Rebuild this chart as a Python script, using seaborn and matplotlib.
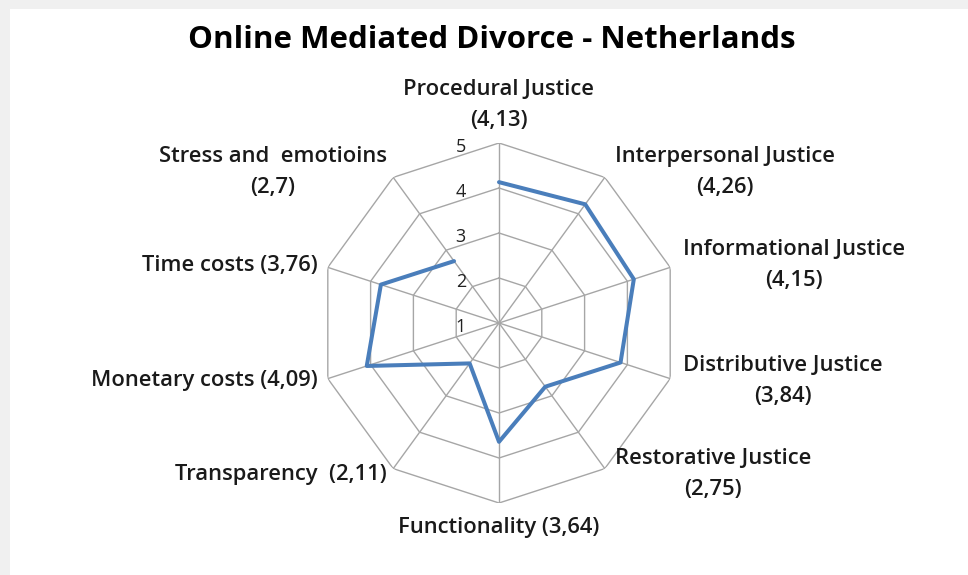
import numpy as np
import pandas as pd
import matplotlib
matplotlib.use('Agg')
import matplotlib.pyplot as plt
import seaborn as sns
from matplotlib.patches import Rectangle

sns.set_style('white')
plt.rcParams['font.family'] = ['Open Sans', 'DejaVu Sans']

# data (clockwise from top)
categories = ['Procedural Justice', 'Interpersonal Justice', 'Informational Justice',
              'Distributive Justice', 'Restorative Justice', 'Functionality',
              'Transparency', 'Monetary costs', 'Time costs', 'Stress and  emotioins']
scores = [4.13, 4.26, 4.15, 3.84, 2.75, 3.64, 2.11, 4.09, 3.76, 2.7]
score_text = ['4,13', '4,26', '4,15', '3,84', '2,75', '3,64', '2,11', '4,09', '3,76', '2,7']
ring_levels = [1, 2, 3, 4, 5]

n = len(categories)
angles = np.arange(n) * 2 * np.pi / n

df = pd.DataFrame({'angle': np.append(angles, angles[0]),
                   'score': scores + [scores[0]]})

fig = plt.figure(figsize=(9.68, 5.75), dpi=100)
fig.patch.set_facecolor('#f0f0f0')
fig.patches.append(Rectangle((10 / 968, 0), 1, (575 - 9) / 575, transform=fig.transFigure,
                             facecolor='white', edgecolor='none', zorder=-5))

cx, cy, rad = 499, 323, 180
ax = fig.add_axes([(cx - rad) / 968, (575 - cy - rad) / 575, 2 * rad / 968, 2 * rad / 575],
                  projection='polar')
ax.set_zorder(2)
ax.set_facecolor('none')
ax.set_theta_zero_location('N')
ax.set_theta_direction(-1)
ax.set_ylim(1, 5)
ax.grid(False)
ax.spines['polar'].set_visible(False)
ax.set_xticks([])
ax.set_yticks([])

grid_col = '#a6a6a6'
# polygon rings
for lv in ring_levels[1:]:
    ax.plot(np.append(angles, angles[0]), [lv] * (n + 1), color=grid_col, lw=1.0, zorder=1)
# spokes
for a in angles:
    ax.plot([a, a], [1, 5], color=grid_col, lw=1.0, zorder=1)

sns.lineplot(data=df, x='angle', y='score', sort=False, ax=ax,
             color='#4a7ebb', lw=2.9, zorder=3)
ax.set_xlabel('')
ax.set_ylabel('')
ax.set_ylim(1, 5)

# radial tick labels
for lv in ring_levels:
    ax.annotate(str(lv), xy=(0, lv), xytext=(-33, -4), textcoords='offset pixels',
                ha='right', va='center', fontsize=13, color='#222222')

# category labels
for i, (cat, txt) in enumerate(zip(categories, score_text)):
    deg = np.degrees(angles[i])
    two_line = cat in ('Procedural Justice', 'Interpersonal Justice', 'Informational Justice',
                       'Distributive Justice', 'Restorative Justice', 'Stress and  emotioins')
    label = f'{cat}\n({txt})' if two_line else f'{cat} ({txt})'
    if cat == 'Transparency':
        label = f'{cat}  ({txt})'
    s, c = abs(np.sin(angles[i])), np.cos(angles[i])
    if deg == 0:
        off, ha, va = (0, 12), 'center', 'bottom'
    elif deg == 180:
        off, ha, va = (0, -25), 'center', 'center'
    elif deg < 180:
        off, ha, va = (5 + 8 * s, 7 * c), 'left', 'center'
    else:
        off, ha, va = (-(1 + 9.5 * s), 7 * c), 'right', 'center'
    ax.annotate(label, xy=(angles[i], 5), xytext=off, textcoords='offset pixels',
                ha=ha, va=va, multialignment='center', fontsize=15.8, fontweight='semibold',
                color='#1a1a1a', linespacing=1.65, annotation_clip=False)

fig.text(492 / 968, 1 - 40 / 575, 'Online Mediated Divorce - Netherlands',
         ha='center', va='center', fontsize=22.5, fontweight='bold', color='black')

fig.savefig('out.png', dpi=100, facecolor=fig.get_facecolor())
